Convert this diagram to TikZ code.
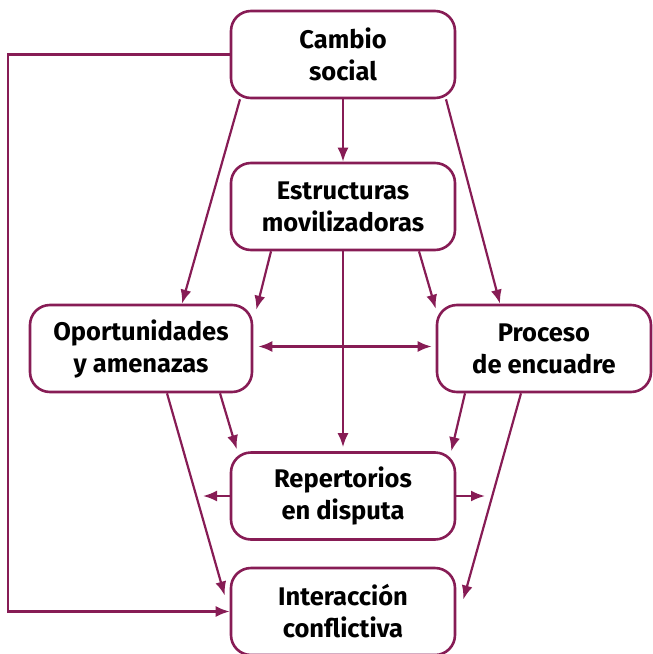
\documentclass[tikz,border=0pt]{standalone}
\usepackage{fontspec}
\setmainfont{Fira Sans}
\usetikzlibrary{arrows.meta}
\usetikzlibrary{positioning}
\definecolor{morado}{RGB}{135,28,85}
\tikzstyle{every node}+=[inner sep=0pt]
\tikzstyle{block} = [rectangle, draw=morado, line width=2.6pt, fill=white, font=\bfseries\fontsize{25.5}{32}\selectfont, align=center, rounded corners=20pt, minimum height=87pt, minimum width=224pt]
\tikzstyle{line} = [draw=morado, line width=2.2pt, -{Latex[length=14pt,width=11pt]}]
\begin{document}
\begin{tikzpicture}[x=1pt, y=-1pt, node distance=150pt]
            \useasboundingbox (0,0) rectangle (653,654);
            % Place nodes
            \node [block] (cambio) at (343,54.5) {Cambio\\social};
            \node [block, below of=cambio, node distance=152pt] (estruc) {Estructuras\\movilizadoras};
            \node [block, below of=estruc, node distance=142pt, xshift=-202pt, minimum width=222pt] (oport) {Oportunidades\\y amenazas};
            \node [block, below of=estruc, node distance=142pt, xshift=201pt, minimum width=214pt] (proceso) {Proceso\\de encuadre};
            \node [block, below of=estruc, node distance=289.5pt] (repert) {Repertorios\\en disputa};
            \node [block, below of=repert, node distance=115.5pt] (interac) {Interacción\\conflictiva};
            \coordinate [left of=cambio, node distance=335pt] (esq);
            \coordinate [left of=repert, node distance=140pt] (rl);
            \coordinate [right of=repert, node distance=142pt] (rr);
            % Draw edges
            \path [line] (cambio) -- (estruc);
            \path [line] ([xshift=-103pt]cambio.south) -- ([xshift=41pt]oport.north);
            \path [line] ([xshift=103pt]cambio.south) -- ([xshift=-44pt]proceso.north);
            \path [line] (cambio) -- (esq) |- (interac);
            \path [line] ([xshift=-72pt]estruc.south) -- ([xshift=3pt,yshift=-6pt]oport.north east);
            \path [line] ([xshift=76pt]estruc.south) -- ([yshift=-5pt]proceso.north west);
            \path [line, shorten >=4pt] (estruc) -- (repert);
            \path [line, {Latex[length=14pt,width=11pt]}-{Latex[length=14pt,width=11pt]}, shorten <=5pt, shorten >=4pt] ([yshift=2pt]oport.east) -- ([yshift=2pt]proceso.west);
            \path [line] ([xshift=79pt]oport.south) -- ([xshift=7pt,yshift=2pt]repert.north west);
            \path [line] ([xshift=26pt]oport.south) -- ([xshift=-5pt,yshift=16pt]interac.west);
            \path [line] ([xshift=-79pt]proceso.south) -- ([xshift=-5pt]repert.north east);
            \path [line] ([xshift=-23pt]proceso.south) -- ([xshift=7pt,yshift=12pt]interac.east);
            \path [line] (repert) -- (rl);
            \path [line] (repert) -- (rr);
\end{tikzpicture}
\end{document}
